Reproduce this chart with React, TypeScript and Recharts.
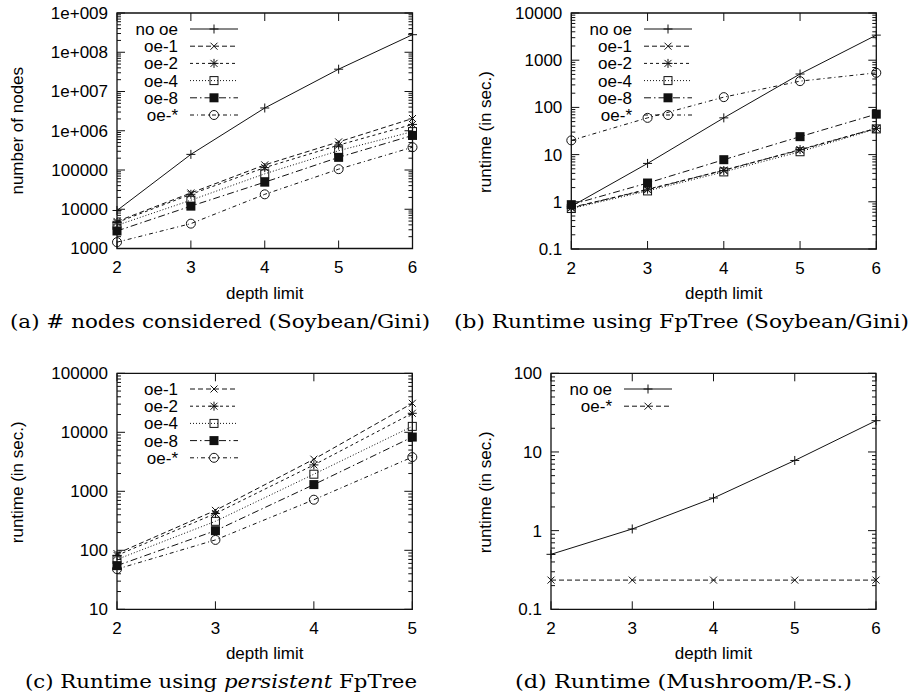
import React from "react";
import { LineChart, Line, XAxis, YAxis, ReferenceArea, Legend } from "recharts";

/* ── Data ───────────────────────────────────────────── */

const DEPTHS = [2, 3, 4, 5, 6];
const DEPTHS_C = [2, 3, 4, 5];

// (a) number of nodes, Soybean/Gini
const A_NO_OE = [9300, 250000, 3.8e6, 3.7e7, 2.8e8];
const A_OE1 = [4900, 26000, 135000, 520000, 2.05e6];
const A_OE2 = [4600, 24000, 115000, 430000, 1.45e6];
const A_OE4 = [3900, 17000, 80000, 310000, 950000];
const A_OE8 = [2800, 12000, 49000, 210000, 760000];
const A_OESTAR = [1450, 4300, 24000, 105000, 380000];

// (b) runtime using FpTree, Soybean/Gini
const B_NO_OE = [0.8, 6.5, 60, 510, 3400];
const B_OE1 = [0.76, 1.8, 4.7, 12.5, 36];
const B_OE2 = [0.74, 1.85, 4.6, 12.8, 36];
const B_OE4 = [0.72, 1.7, 4.3, 11.5, 35];
const B_OE8 = [0.87, 2.5, 7.8, 24, 72];
const B_OESTAR = [20, 60, 165, 360, 540];

// (c) runtime using persistent FpTree
const C_OE1 = [88, 475, 3500, 31000];
const C_OE2 = [82, 420, 2800, 21000];
const C_OE4 = [70, 310, 1950, 12600];
const C_OE8 = [55, 215, 1300, 8300];
const C_OESTAR = [48, 150, 720, 3800];

// (d) runtime, Mushroom/P.-S.
const D_NO_OE = [0.5, 1.05, 2.6, 7.8, 25];
const D_OESTAR = [0.235, 0.235, 0.235, 0.235, 0.235];

// axis ticks
const A_Y_MAJOR = [1e3, 1e4, 1e5, 1e6, 1e7, 1e8, 1e9];
const A_Y_LABELS = ["1000", "10000", "100000", "1e+006", "1e+007", "1e+008", "1e+009"];
const B_Y_MAJOR = [0.1, 1, 10, 100, 1000, 10000];
const B_Y_LABELS = ["0.1", "1", "10", "100", "1000", "10000"];
const C_Y_MAJOR = [10, 100, 1000, 10000, 100000];
const C_Y_LABELS = ["10", "100", "1000", "10000", "100000"];
const D_Y_MAJOR = [0.1, 1, 10, 100];
const D_Y_LABELS = ["0.1", "1", "10", "100"];

const CAPTIONS = [
  "(a) # nodes considered (Soybean/Gini)",
  "(b) Runtime using FpTree (Soybean/Gini)",
  "(c) Runtime using ",
  "(d) Runtime (Mushroom/P.-S.)",
];

/* ── Styles ─────────────────────────────────────────── */

const INK = "#111";
const SANS = "'Liberation Sans', Arial, sans-serif";
const SERIF = "'DejaVu Serif', 'Liberation Serif', serif";
const FS = 17;

type Mark = "plus" | "cross" | "star" | "box" | "fbox" | "circle";

interface SeriesDef {
  key: string;
  name: string;
  dash?: string;
  mark: Mark;
}

const S_NO_OE: SeriesDef = { key: "noOe", name: "no oe", mark: "plus" };
const S_OE1: SeriesDef = { key: "oe1", name: "oe-1", dash: "5 3", mark: "cross" };
const S_OE2: SeriesDef = { key: "oe2", name: "oe-2", dash: "3 3", mark: "star" };
const S_OE4: SeriesDef = { key: "oe4", name: "oe-4", dash: "1 2", mark: "box" };
const S_OE8: SeriesDef = { key: "oe8", name: "oe-8", dash: "7 3 1.5 3", mark: "fbox" };
const S_OESTAR: SeriesDef = { key: "oeStar", name: "oe-*", dash: "4 3 1 3", mark: "circle" };
const S_OESTAR_D: SeriesDef = { key: "oeStar", name: "oe-*", dash: "5 3", mark: "cross" };

/* ── Markers ────────────────────────────────────────── */

function Marker({ kind, cx, cy }: { kind: Mark; cx: number; cy: number }) {
  if (cx == null || cy == null || isNaN(cy)) return null;
  const plus = (
    <>
      <line x1={cx - 4.5} x2={cx + 4.5} y1={cy} y2={cy} />
      <line x1={cx} x2={cx} y1={cy - 4.5} y2={cy + 4.5} />
    </>
  );
  const cross = (
    <>
      <line x1={cx - 3.5} x2={cx + 3.5} y1={cy - 3.5} y2={cy + 3.5} />
      <line x1={cx - 3.5} x2={cx + 3.5} y1={cy + 3.5} y2={cy - 3.5} />
    </>
  );
  switch (kind) {
    case "plus":
      return <g stroke={INK} strokeWidth={1}>{plus}</g>;
    case "cross":
      return <g stroke={INK} strokeWidth={1}>{cross}</g>;
    case "star":
      return <g stroke={INK} strokeWidth={1}>{plus}{cross}</g>;
    case "box":
      return <rect x={cx - 4} y={cy - 4} width={8} height={8} fill="none" stroke={INK} />;
    case "fbox":
      return <rect x={cx - 4.5} y={cy - 4.5} width={9} height={9} fill={INK} />;
    case "circle":
      return <circle cx={cx} cy={cy} r={4.5} fill="none" stroke={INK} />;
  }
  return null;
}

/* ── Panel ──────────────────────────────────────────── */

interface PanelDef {
  left: number; top: number; w: number; h: number;
  pl: number; pt: number; pr: number; pb: number; // plot frame, page coords
  xs: number[];
  cols: Record<string, number[]>;
  series: SeriesDef[];
  yMajor: number[];
  yLabels: string[];
  yTitle: string;
  yTitleDx: number;
  yTitleDy: number;
}

function minorTicks(majors: number[]) {
  const out: number[] = [];
  majors.forEach((m, i) => {
    out.push(m);
    if (i < majors.length - 1) for (let k = 2; k <= 9; k++) out.push(m * k);
  });
  return out;
}

function Panel({ p }: { p: PanelDef }) {
  const yw = p.pl - p.left;
  const mt = p.pt - p.top;
  const mr = p.left + p.w - p.pr;
  const xh = p.top + p.h - p.pb;
  // local plot coords
  const L = yw, R = p.pr - p.left, T = mt, B = p.pb - p.top;

  const data = p.xs.map((d, i) => {
    const row: Record<string, number> = { d };
    for (const s of p.series) row[s.key] = p.cols[s.key][i];
    return row;
  });

  const yTick = (props: any) => {
    const { y, payload } = props;
    const idx = p.yMajor.indexOf(payload.value);
    const len = idx >= 0 ? 8 : 4;
    return (
      <g>
        <line x1={L} x2={L + len} y1={y} y2={y} stroke={INK} />
        <line x1={R - len} x2={R} y1={y} y2={y} stroke={INK} />
        {idx >= 0 && (
          <text x={L - 9} y={y} dy="0.35em" textAnchor="end" fontSize={FS} fontFamily={SANS} fill="#000">
            {p.yLabels[idx]}
          </text>
        )}
      </g>
    );
  };

  const xTick = (props: any) => {
    const { x, payload } = props;
    return (
      <g>
        <line x1={x} x2={x} y1={B} y2={B - 8} stroke={INK} />
        <line x1={x} x2={x} y1={T} y2={T + 8} stroke={INK} />
        <text x={x} y={B + 24.5} textAnchor="middle" fontSize={FS} fontFamily={SANS} fill="#000">
          {payload.value}
        </text>
      </g>
    );
  };

  const legendH = p.series.length * 17.2 + 12;
  const legend = () => (
    <svg width={130} height={legendH} style={{ display: "block" }}>
      {p.series.map((s, i) => {
        const y = 16 + i * 17.2;
        return (
          <g key={s.key}>
            <text x={61} y={y} dy="0.35em" textAnchor="end" fontSize={FS} fontFamily={SANS} fill="#000">
              {s.name}
            </text>
            <line x1={73} x2={121} y1={y} y2={y} stroke={INK} strokeDasharray={s.dash} />
            <Marker kind={s.mark} cx={97} cy={y} />
          </g>
        );
      })}
    </svg>
  );

  const yTitleX = L + p.yTitleDx;
  const yTitleY = (T + B) / 2 + p.yTitleDy;

  return (
    <div style={{ position: "absolute", left: p.left, top: p.top }}>
      <LineChart width={p.w} height={p.h} data={data} margin={{ top: mt, right: mr, left: 0, bottom: 0 }}>
        <XAxis
          dataKey="d"
          type="number"
          domain={[p.xs[0], p.xs[p.xs.length - 1]]}
          ticks={p.xs}
          interval={0}
          height={xh}
          axisLine={false}
          tickLine={false}
          tick={xTick}
          label={{
            content: () => (
              <text x={(L + R) / 2} y={B + 50} textAnchor="middle" fontSize={FS} fontFamily={SANS} fill="#000">
                depth limit
              </text>
            ),
          }}
        />
        <YAxis
          type="number"
          scale="log"
          domain={[p.yMajor[0], p.yMajor[p.yMajor.length - 1]]}
          allowDataOverflow
          ticks={minorTicks(p.yMajor)}
          interval={0}
          width={yw}
          axisLine={false}
          tickLine={false}
          tick={yTick}
          label={{
            content: () => (
              <text
                x={yTitleX}
                y={yTitleY}
                dy="0.35em"
                textAnchor="middle"
                fontSize={FS}
                fontFamily={SANS}
                fill="#000"
                transform={`rotate(-90 ${yTitleX} ${yTitleY})`}
              >
                {p.yTitle}
              </text>
            ),
          }}
        />
        <ReferenceArea
          x1={p.xs[0]}
          x2={p.xs[p.xs.length - 1]}
          y1={p.yMajor[0]}
          y2={p.yMajor[p.yMajor.length - 1]}
          fill="none"
          stroke={INK}
          strokeWidth={1.3}
          ifOverflow="visible"
        />
        <Legend
          layout="vertical"
          align="center"
          verticalAlign="middle"
          wrapperStyle={{ left: L, top: T, width: 130, height: legendH }}
          content={legend}
        />
        {p.series.map((s) => (
          <Line
            key={s.key}
            dataKey={s.key}
            name={s.name}
            type="linear"
            stroke={INK}
            strokeWidth={1}
            strokeDasharray={s.dash}
            isAnimationActive={false}
            activeDot={false}
            dot={(d: any) => <Marker key={`${s.key}-${d.index}`} kind={s.mark} cx={d.cx} cy={d.cy} />}
          />
        ))}
      </LineChart>
    </div>
  );
}

/* ── Panels ─────────────────────────────────────────── */

const PANEL_A: PanelDef = {
  left: 0, top: 0, w: 452, h: 305,
  pl: 117, pt: 13, pr: 412.5, pb: 248.5,
  xs: DEPTHS,
  cols: { noOe: A_NO_OE, oe1: A_OE1, oe2: A_OE2, oe4: A_OE4, oe8: A_OE8, oeStar: A_OESTAR },
  series: [S_NO_OE, S_OE1, S_OE2, S_OE4, S_OE8, S_OESTAR],
  yMajor: A_Y_MAJOR, yLabels: A_Y_LABELS,
  yTitle: "number of nodes", yTitleDx: -100, yTitleDy: 0,
};

const PANEL_B: PanelDef = {
  left: 452, top: 0, w: 460, h: 305,
  pl: 571.3, pt: 13, pr: 876.3, pb: 249,
  xs: DEPTHS,
  cols: { noOe: B_NO_OE, oe1: B_OE1, oe2: B_OE2, oe4: B_OE4, oe8: B_OE8, oeStar: B_OESTAR },
  series: [S_NO_OE, S_OE1, S_OE2, S_OE4, S_OE8, S_OESTAR],
  yMajor: B_Y_MAJOR, yLabels: B_Y_LABELS,
  yTitle: "runtime (in sec.)", yTitleDx: -86, yTitleDy: 1,
};

const PANEL_C: PanelDef = {
  left: 0, top: 340, w: 452, h: 330,
  pl: 117, pt: 373.3, pr: 412.3, pb: 609.3,
  xs: DEPTHS_C,
  cols: { oe1: C_OE1, oe2: C_OE2, oe4: C_OE4, oe8: C_OE8, oeStar: C_OESTAR },
  series: [S_OE1, S_OE2, S_OE4, S_OE8, S_OESTAR],
  yMajor: C_Y_MAJOR, yLabels: C_Y_LABELS,
  yTitle: "runtime (in sec.)", yTitleDx: -100, yTitleDy: -9,
};

const PANEL_D: PanelDef = {
  left: 452, top: 340, w: 460, h: 330,
  pl: 551, pt: 373.3, pr: 876, pb: 609.3,
  xs: DEPTHS,
  cols: { noOe: D_NO_OE, oeStar: D_OESTAR },
  series: [S_NO_OE, S_OESTAR_D],
  yMajor: D_Y_MAJOR, yLabels: D_Y_LABELS,
  yTitle: "runtime (in sec.)", yTitleDx: -66, yTitleDy: 1,
};

/* ── App ────────────────────────────────────────────── */

export default function App() {
  const cap = { fontSize: 19, fontFamily: SERIF, fill: "#000" };
  return (
    <div style={{ position: "absolute", left: 0, top: 0, width: 912, height: 699, background: "#fff" }}>
      <Panel p={PANEL_A} />
      <Panel p={PANEL_B} />
      <Panel p={PANEL_C} />
      <Panel p={PANEL_D} />
      <svg width={912} height={699} style={{ position: "absolute", left: 0, top: 0, pointerEvents: "none" }}>
        <text x={10} y={328} textLength={420} lengthAdjust="spacingAndGlyphs" {...cap}>{CAPTIONS[0]}</text>
        <text x={454} y={328} textLength={455} lengthAdjust="spacingAndGlyphs" {...cap}>{CAPTIONS[1]}</text>
        <text x={25} y={688} textLength={392} lengthAdjust="spacingAndGlyphs" {...cap}>
          {CAPTIONS[2]}
          <tspan fontStyle="italic">persistent</tspan> FpTree
        </text>
        <text x={515} y={688} textLength={337} lengthAdjust="spacingAndGlyphs" {...cap}>{CAPTIONS[3]}</text>
      </svg>
    </div>
  );
}
